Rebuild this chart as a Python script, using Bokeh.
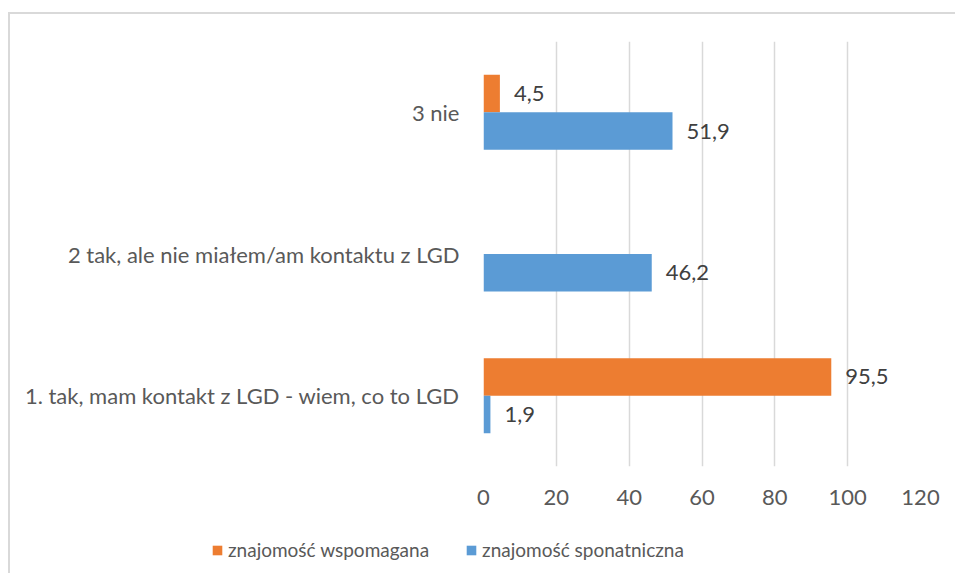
from bokeh.plotting import figure
from bokeh.layouts import column
from bokeh.models import (ColumnDataSource, FactorRange, Range1d, FixedTicker,
                          Legend, LegendItem)
from bokeh.transform import dodge
from bokeh.core.properties import value
from bokeh.embed import file_html
from bokeh.resources import INLINE
import math

categories = ["1. tak, mam kontakt z LGD - wiem, co to LGD",
              "2 tak, ale nie miałem/am kontaktu z LGD",
              "3 nie"]
wspomagana = [95.5, float("nan"), 4.5]
sponatniczna = [1.9, 46.2, 51.9]
x_ticks = [0, 20, 40, 60, 80, 100, 120]
series_names = ["znajomość wspomagana", "znajomość sponatniczna"]

ORANGE = "#ED7D31"
BLUE = "#5B9BD5"
FONT = "Lato"
FS = "22px"
W = 945


def fmt(v):
    return ("%.1f" % v).replace(".", ",")


src = ColumnDataSource(dict(cat=categories, w=wspomagana, s=sponatniczna))

lab_w = [(c, v) for c, v in zip(categories, wspomagana) if not math.isnan(v)]
lab_s = [(c, v) for c, v in zip(categories, sponatniczna) if not math.isnan(v)]
src_lw = ColumnDataSource(dict(cat=[c for c, _ in lab_w], v=[v for _, v in lab_w],
                               t=[fmt(v) for _, v in lab_w]))
src_ls = ColumnDataSource(dict(cat=[c for c, _ in lab_s], v=[v for _, v in lab_s],
                               t=[fmt(v) for _, v in lab_s]))

p = figure(width=W, height=512,
           y_range=FactorRange(*categories, range_padding=0),
           x_range=Range1d(0, 120),
           output_backend="svg", toolbar_location=None,
           min_border_left=473, min_border_right=W - 473 - 437,
           min_border_top=27, min_border_bottom=60)
p.frame_align = False
p.outline_line_color = None
p.background_fill_color = "white"
p.border_fill_color = "white"

off = 0.1325
hh = 0.265
r_w = p.hbar(y=dodge("cat", off, range=p.y_range), right="w", left=0, height=hh,
             source=src, fill_color=ORANGE, line_color=None)
r_s = p.hbar(y=dodge("cat", -off, range=p.y_range), right="s", left=0, height=hh,
             source=src, fill_color=BLUE, line_color=None)

for s_, o_ in ((src_lw, off), (src_ls, -off)):
    p.text(x="v", y=dodge("cat", o_, range=p.y_range), text="t", source=s_,
           x_offset=14, text_align="left", text_baseline="middle",
           text_font=value(FONT), text_font_size=FS, text_color="#404040")

p.xaxis.ticker = FixedTicker(ticks=x_ticks)
p.xgrid.ticker = FixedTicker(ticks=x_ticks)
p.xgrid.grid_line_color = "#d9d9d9"
p.xgrid.grid_line_width = 1.5
p.ygrid.grid_line_color = None

for ax in (p.xaxis[0], p.yaxis[0]):
    ax.axis_line_color = None
    ax.major_tick_line_color = None
    ax.minor_tick_line_color = None
    ax.major_tick_out = 0
    ax.major_tick_in = 0
    ax.major_label_text_font = FONT
    ax.major_label_text_font_size = FS
    ax.major_label_text_color = "#595959"
p.xaxis.major_label_standoff = 23
p.yaxis.major_label_standoff = 24

# legend strip below the chart (legend swatches only, no visible marks)
q = figure(width=W, height=47, output_backend="svg", toolbar_location=None,
           min_border=0, min_border_left=0, min_border_right=0,
           min_border_top=0, min_border_bottom=0)
q.frame_align = False
q.axis.visible = False
q.grid.visible = False
q.outline_line_color = None
q.border_fill_color = "white"
nan_src = ColumnDataSource(dict(y=[float("nan")], r=[float("nan")]))
lw = q.hbar(y="y", right="r", height=1, source=nan_src,
            fill_color=ORANGE, line_color=None)
ls = q.hbar(y="y", right="r", height=1, source=nan_src,
            fill_color=BLUE, line_color=None)

legend = Legend(items=[LegendItem(label=series_names[0], renderers=[lw]),
                       LegendItem(label=series_names[1], renderers=[ls])],
                orientation="horizontal", location=(201, 12),
                glyph_width=12, glyph_height=12, label_standoff=5, spacing=36,
                padding=0, margin=0, border_line_color=None,
                background_fill_alpha=0,
                label_text_font=FONT, label_text_font_size="19px",
                label_text_color="#595959")
q.add_layout(legend, "center")

layout = column(p, q, spacing=0)
layout.styles = {"border-left": "2px solid #d9d9d9", "border-top": "2px solid #d9d9d9",
                 "margin-top": "12px", "margin-left": "8px"}

open("out.html", "w").write(file_html(layout, INLINE))
